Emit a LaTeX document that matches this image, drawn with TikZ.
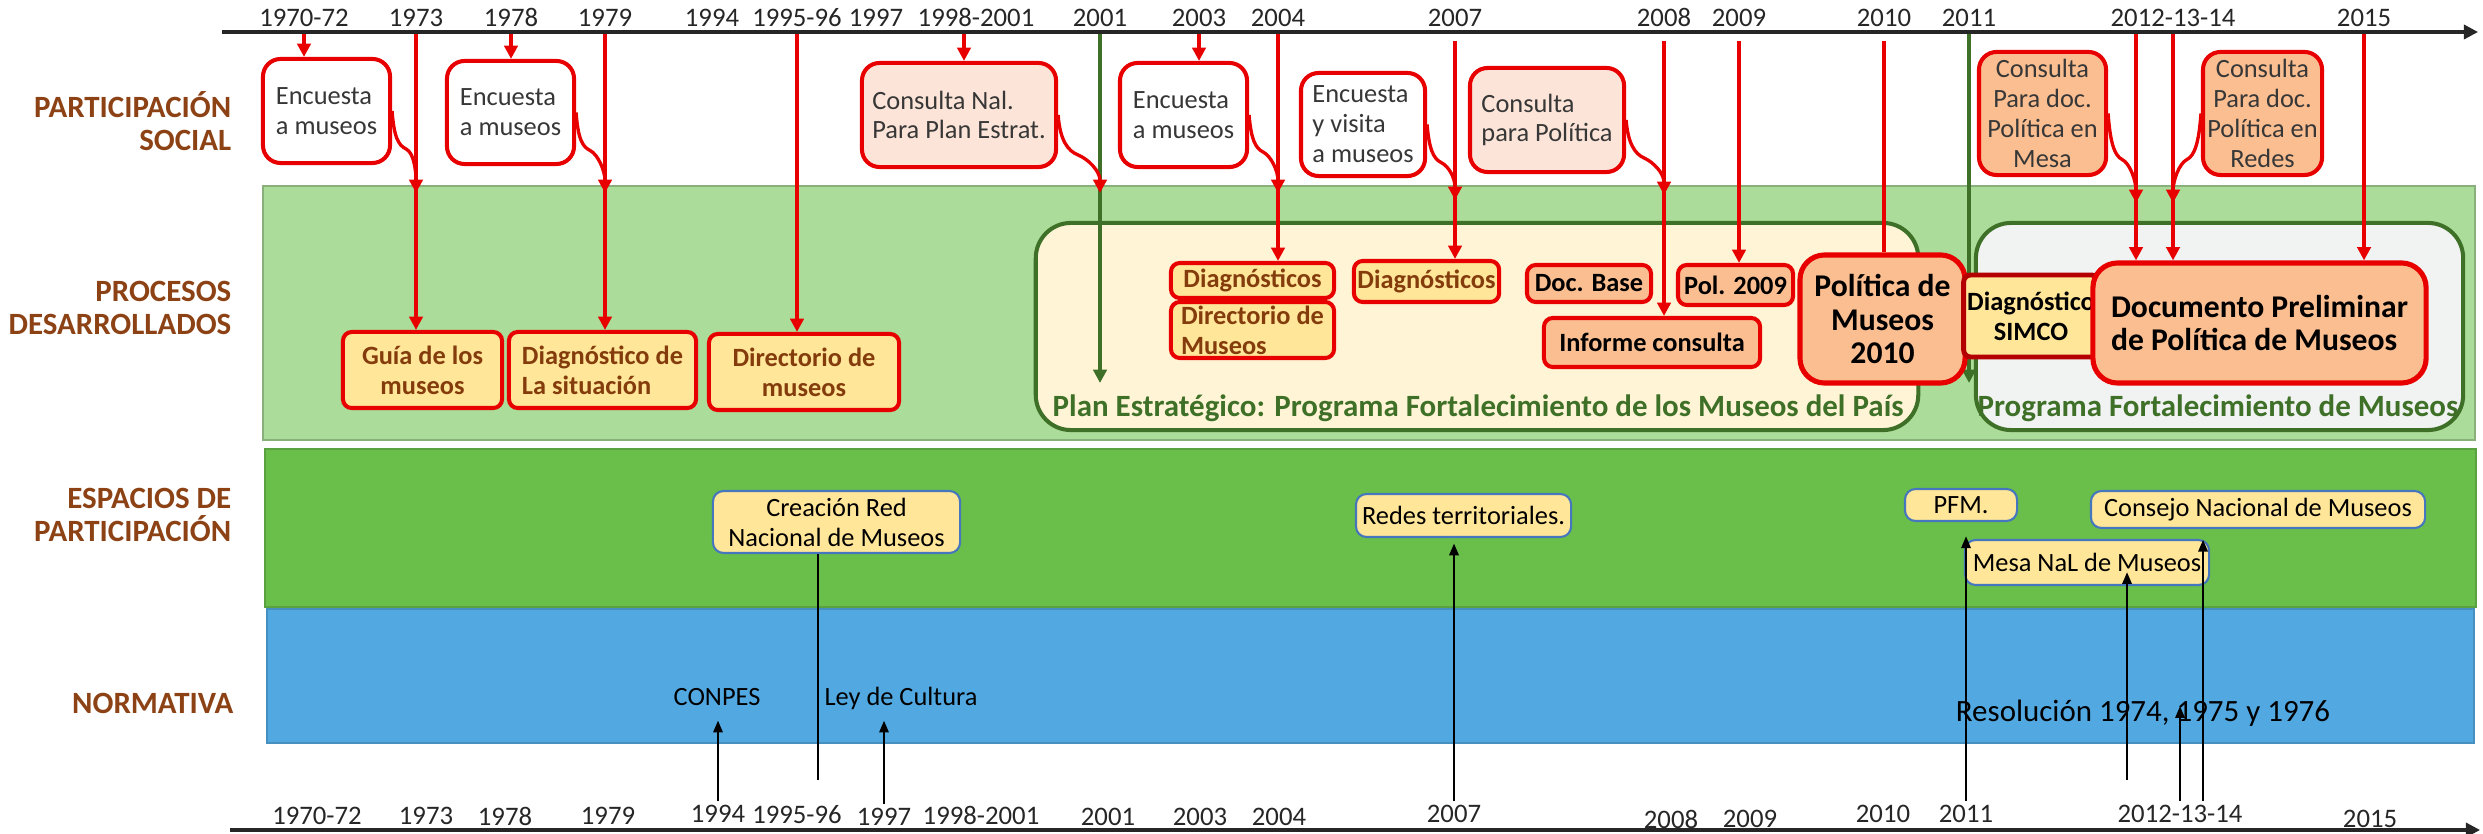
\documentclass[tikz,border=0pt]{standalone}
\usepackage{fontspec}
\setmainfont{Carlito}
\usetikzlibrary{arrows.meta}

\definecolor{rowbrown}{RGB}{140,66,20}
\definecolor{boxred}{RGB}{232,0,0}
\definecolor{simcored}{RGB}{180,0,0}
\definecolor{boxgray}{RGB}{55,55,55}
\definecolor{procgreen}{RGB}{171,220,153}
\definecolor{espgreen}{RGB}{106,191,75}
\definecolor{normblue}{RGB}{82,169,226}
\definecolor{groupgreen}{RGB}{62,112,40}
\definecolor{planfill}{RGB}{255,245,214}
\definecolor{progfill}{RGB}{241,242,242}
\definecolor{procyellow}{RGB}{255,230,153}
\definecolor{procbrown}{RGB}{132,60,12}
\definecolor{salmon}{RGB}{250,190,145}
\definecolor{pinkfill}{RGB}{252,229,216}
\definecolor{espblue}{RGB}{70,118,190}

\pgfdeclarelayer{bands}
\pgfdeclarelayer{links}
\pgfsetlayers{bands,links,main}

\tikzset{
	yearlbl/.style={font=\fontsize{7.6}{9}\selectfont, text=black!85, inner sep=1pt},
	rowlbl/.style={font=\fontsize{8.8}{9.6}\selectfont\bfseries, text=rowbrown, align=right, anchor=east, inner sep=0pt},
	consbox/.style={draw=boxred, line width=1.15pt, rounded corners=5pt, fill=white, text=boxgray, font=\fontsize{7.5}{8.5}\selectfont, inner sep=1pt, align=left},
	procbox/.style={draw=boxred, line width=1.15pt, rounded corners=2.5pt, fill=procyellow, text=procbrown, font=\fontsize{7.5}{8.5}\selectfont\bfseries, inner sep=1pt, align=center},
	docbox/.style={procbox, fill=salmon, text=black},
	bigdoc/.style={docbox, line width=1.45pt, rounded corners=7pt, font=\fontsize{9}{9.6}\selectfont\bfseries},
	espbox/.style={draw=espblue, line width=0.6pt, rounded corners=3pt, fill=procyellow, text=black, font=\fontsize{7.5}{8.5}\selectfont, inner sep=1pt, align=center},
	normlbl/.style={text=black, font=\fontsize{7.5}{8.5}\selectfont, inner sep=1pt},
	groupbox/.style={draw=groupgreen, line width=1.15pt, rounded corners=10pt},
	grouplbl/.style={text=groupgreen, font=\fontsize{8.8}{10}\selectfont\bfseries, inner sep=0pt},
	redline/.style={draw=boxred, line width=0.95pt},
	redarrow/.style={redline, -{Triangle[width=3.8pt,length=3.8pt]}},
	greenarrow/.style={draw=groupgreen, line width=0.95pt, -{Triangle[width=3.8pt,length=3.8pt]}},
	blackarrow/.style={draw=black, line width=0.75pt, -{Triangle[width=2.6pt,length=3.4pt]}},
	axisline/.style={draw=black!85, line width=0.9pt, -{Triangle[width=4pt,length=4pt]}}
}

\begin{document}
\begin{tikzpicture}[x=0.01cm, y=-0.01cm]
\useasboundingbox (0,0) rectangle (2483,834);

%% Franjas
\begin{pgfonlayer}{bands}
	\filldraw[fill=procgreen, draw=procgreen!80!black, line width=0.6pt] (263,186) rectangle (2475,440);
	\filldraw[fill=espgreen, draw=espgreen!85!black, line width=0.6pt] (265,449) rectangle (2476,607);
	\filldraw[fill=normblue, draw=normblue!85!black, line width=0.6pt] (267,609) rectangle (2474,743);

	\node[groupbox, fill=planfill, minimum width=8.82cm, minimum height=2.07cm] (plan) at (1477,326.5) {};
	\node[groupbox, fill=progfill, minimum width=4.87cm, minimum height=2.07cm] (prog) at (2219.5,326.5) {};
\end{pgfonlayer}
\node[grouplbl, anchor=west] (planlbl) at (1052,408) {Plan Estratégico: Programa Fortalecimiento de los Museos del País};
\node[grouplbl] (proglbl) at (2218,408) {Programa Fortalecimiento de Museos};

%% Filas
\node[rowlbl] (rsocial) at (232,121) {PARTICIPACIÓN\\SOCIAL};
\node[rowlbl] (rproc) at (232,308) {PROCESOS\\DESARROLLADOS};
\node[rowlbl] (resp) at (232,515) {ESPACIOS DE\\PARTICIPACIÓN};
\node[rowlbl] (rnorm) at (234,703) {NORMATIVA};

%% Linea de tiempo arriba
\coordinate (topL) at (222,32);
\coordinate (topR) at (2478,32);
\draw[axisline] (topL) -- (topR);
\node[yearlbl, anchor=south] (t7072) at (304,31) {1970-72};
\node[yearlbl, anchor=south] (t73) at (416,31) {1973};
\node[yearlbl, anchor=south] (t78) at (511,31) {1978};
\node[yearlbl, anchor=south] (t79) at (605,31) {1979};
\node[yearlbl, anchor=south] (t94) at (712,31) {1994};
\node[yearlbl, anchor=south] (t9596) at (797,31) {1995-96};
\node[yearlbl, anchor=south] (t97) at (876,31) {1997};
\node[yearlbl, anchor=south] (t9801) at (976,31) {1998-2001};
\node[yearlbl, anchor=south] (t2001) at (1100,31) {2001};
\node[yearlbl, anchor=south] (t2003) at (1199,31) {2003};
\node[yearlbl, anchor=south] (t2004) at (1278,31) {2004};
\node[yearlbl, anchor=south] (t2007) at (1455,31) {2007};
\node[yearlbl, anchor=south] (t2008) at (1664,31) {2008};
\node[yearlbl, anchor=south] (t2009) at (1739,31) {2009};
\node[yearlbl, anchor=south] (t2010) at (1884,31) {2010};
\node[yearlbl, anchor=south] (t2011) at (1969,31) {2011};
\node[yearlbl, anchor=south] (t2012) at (2173,31) {2012-13-14};
\node[yearlbl, anchor=south] (t2015) at (2364,31) {2015};
\coordinate (t9801a) at ([xshift=-0.12cm]t9801.south);
\coordinate (t2012a) at ([xshift=-0.37cm]t2012.south);

%% Linea de tiempo abajo
\coordinate (botL) at (230,830);
\coordinate (botR) at (2480,830);
\draw[axisline] (botL) -- (botR);
\node[yearlbl, anchor=north] (b7072) at (317,803) {1970-72};
\node[yearlbl, anchor=north] (b73) at (426,803) {1973};
\node[yearlbl, anchor=north] (b78) at (505,803) {1978};
\node[yearlbl, anchor=north] (b79) at (608,803) {1979};
\node[yearlbl, anchor=north] (b94) at (718,801) {1994};
\node[yearlbl, anchor=north] (b9596) at (797,801) {1995-96};
\node[yearlbl, anchor=north] (b97) at (884,804) {1997};
\node[yearlbl, anchor=north] (b9801) at (981,802) {1998-2001};
\node[yearlbl, anchor=north] (b2001) at (1108,804) {2001};
\node[yearlbl, anchor=north] (b2003) at (1200,804) {2003};
\node[yearlbl, anchor=north] (b2004) at (1279,804) {2004};
\node[yearlbl, anchor=north] (b2007) at (1454,801) {2007};
\node[yearlbl, anchor=north] (b2008) at (1671,806) {2008};
\node[yearlbl, anchor=north] (b2009) at (1750,806) {2009};
\node[yearlbl, anchor=north] (b2010) at (1883,801) {2010};
\node[yearlbl, anchor=north] (b2011) at (1966,801) {2011};
\node[yearlbl, anchor=north] (b2012) at (2180,801) {2012-13-14};
\node[yearlbl, anchor=north] (b2015) at (2370,806) {2015};

%% Participacion social
\node[consbox, minimum width=1.27cm, minimum height=1.04cm] (enc1) at (326.5,111) {Encuesta\\a museos};
\node[consbox, minimum width=1.27cm, minimum height=1.03cm] (enc2) at (510.5,112.5) {Encuesta\\a museos};
\node[consbox, fill=pinkfill, minimum width=1.94cm, minimum height=1.04cm] (cnal) at (959,115) {Consulta Nal.\\Para Plan Estrat.};
\node[consbox, minimum width=1.27cm, minimum height=1.04cm] (enc3) at (1183.5,115) {Encuesta\\a museos};
\node[consbox, minimum width=1.24cm, minimum height=1.03cm] (envis) at (1363,124.5) {Encuesta\\y visita\\a museos};
\node[consbox, fill=pinkfill, minimum width=1.54cm, minimum height=1.04cm] (cpol) at (1547,120) {Consulta\\para Política};
\node[consbox, fill=salmon, align=center, minimum width=1.27cm, minimum height=1.23cm] (cmesa) at (2042.5,113.5) {Consulta\\Para doc.\\Política en\\Mesa};
\node[consbox, fill=salmon, align=center, minimum width=1.19cm, minimum height=1.23cm] (credes) at (2262.5,113.5) {Consulta\\Para doc.\\Política en\\Redes};

%% Procesos desarrollados
\node[procbox, minimum width=1.59cm, minimum height=0.76cm] (guia) at (422.5,370) {Guía de los\\museos};
\node[procbox, align=left, minimum width=1.87cm, minimum height=0.76cm] (diag79) at (602.5,370) {Diagnóstico de\\La situación};
\node[procbox, minimum width=1.90cm, minimum height=0.76cm] (dir96) at (804,372) {Directorio de\\museos};
\node[procbox, minimum width=1.63cm, minimum height=0.35cm] (diag04) at (1252.5,280.5) {Diagnósticos};
\node[procbox, align=left, minimum width=1.63cm, minimum height=0.56cm] (dir04) at (1252.5,330) {Directorio de\\Museos};
\node[procbox, minimum width=1.45cm, minimum height=0.41cm] (diag07) at (1426.5,281.5) {Diagnósticos};
\node[docbox, minimum width=1.24cm, minimum height=0.37cm] (docbase) at (1589,283.5) {Doc. Base};
\node[docbox, minimum width=2.16cm, minimum height=0.49cm] (informe) at (1652,342.5) {Informe consulta};
\node[docbox, minimum width=1.15cm, minimum height=0.40cm] (pol09) at (1735.5,285) {Pol. 2009};
\node[bigdoc, minimum width=1.65cm, minimum height=1.28cm] (pol10) at (1882.5,319) {Política de\\Museos\\2010};
\node[docbox, fill=procyellow, draw=simcored, line width=1.4pt, rounded corners=2pt, minimum width=1.32cm, minimum height=0.82cm] (simco) at (2031,316) {Diagnóstico\\SIMCO};
\node[bigdoc, align=left, minimum width=3.33cm, minimum height=1.20cm] (docprel) at (2259.5,323) {Documento Preliminar\\de Política de Museos};

%% Espacios de participacion
\node[espbox, minimum width=2.47cm, minimum height=0.62cm] (creacion) at (836.5,522) {Creación Red\\Nacional de Museos};
\node[espbox, minimum width=2.15cm, minimum height=0.43cm] (redes) at (1463.5,515.5) {Redes territoriales.};
\node[espbox, minimum width=1.12cm, minimum height=0.32cm] (pfm) at (1961,505) {PFM.};
\node[espbox, minimum width=3.34cm, minimum height=0.37cm] (consejo) at (2258,509.5) {Consejo Nacional de Museos};
\node[espbox, minimum width=2.44cm, minimum height=0.45cm] (mesa) at (2087,562.5) {Mesa NaL de Museos};

%% Normativa
\node[normlbl] (conpes) at (717,697) {CONPES};
\node[normlbl] (ley) at (901,698) {Ley de Cultura};
\node[normlbl, font=\fontsize{8.8}{10}\selectfont] (resol) at (2143,713) {Resolución 1974, 1975 y 1976};

%% Flechas de arriba
\begin{pgfonlayer}{links}
	\draw[redarrow] (t7072.south) -- (t7072.south |- enc1.north);
	\draw[redarrow] (t73.south) -- (t73.south |- guia.north);
	\draw[redarrow] (t78.south) -- (t78.south |- enc2.north);
	\draw[redarrow] (t79.south) -- (t79.south |- diag79.north);
	\draw[redarrow] (t9596.south) -- (t9596.south |- dir96.north);
	\draw[redarrow] (t9801a) -- (t9801a |- cnal.north);
	\draw[redarrow] (t2003.south) -- (t2003.south |- enc3.north);
	\draw[redarrow] (t2004.south) -- (t2004.south |- diag04.north);
	\draw[redarrow, shorten <=2.8pt] (t2007.south) -- (t2007.south |- diag07.north);
	\draw[redarrow, shorten <=2.8pt] (t2008.south) -- (t2008.south |- informe.north);
	\draw[redarrow, shorten <=2.8pt] (t2009.south) -- (t2009.south |- pol09.north);
	\draw[redline, shorten <=2.8pt] (t2010.south) -- (t2010.south |- pol10.north);
	\draw[redarrow] (t2012a) -- (t2012a |- docprel.north);
	\draw[redarrow] (t2012.south) -- (t2012.south |- docprel.north);
	\draw[redarrow] (t2015.south) -- (t2015.south |- docprel.north);

	\coordinate (g2001) at (1100,383);
	\coordinate (g2011) at (1969,383);
	\draw[greenarrow] (t2001.south) -- (g2001);
	\draw[greenarrow] (t2011.south) -- (g2011);

	%% consultas hacia los procesos
	\draw[redarrow] (enc1.east) .. controls +(2,26) and +(-8,-4) .. ++(14,38) .. controls +(8,4) and +(0,-22) .. (t73.south |- 0,193);
	\draw[redarrow] (enc2.east) .. controls +(2,26) and +(-8,-4) .. ++(14,38) .. controls +(8,4) and +(0,-22) .. (t79.south |- 0,193);
	\draw[redarrow] (cnal.east) .. controls +(2,26) and +(-10,-4) .. ++(20,40) .. controls +(10,4) and +(0,-22) .. (t2001.south |- 0,193);
	\draw[redarrow] (enc3.east) .. controls +(2,24) and +(-8,-4) .. ++(14,37) .. controls +(8,4) and +(0,-22) .. (t2004.south |- 0,193);
	\draw[redarrow] (envis.east) .. controls +(2,24) and +(-8,-4) .. ++(14,38) .. controls +(8,4) and +(0,-22) .. (t2007.south |- 0,200);
	\draw[redarrow] (cpol.east) .. controls +(2,24) and +(-9,-4) .. ++(18,38) .. controls +(9,4) and +(0,-22) .. (t2008.south |- 0,195);
	\draw[redarrow] (cmesa.east) .. controls +(2,28) and +(-8,-4) .. ++(14,46) .. controls +(8,4) and +(0,-22) .. (t2012a |- 0,203);
	\draw[redarrow] (credes.west) .. controls +(-2,28) and +(8,-4) .. ++(-14,46) .. controls +(-8,4) and +(0,-22) .. (t2012.south |- 0,203);
\end{pgfonlayer}

%% Flechas de abajo
\coordinate (crbase) at (818,780);
\coordinate (mesabase) at (2127,780);
\coordinate (conbase) at ([xshift=0.23cm]b2012.north);
\draw[blackarrow, shorten >=3pt] (b94.north) -- (b94.north |- conpes.south);
\draw[line width=0.75pt] (crbase) -- (crbase |- creacion.south);
\draw[blackarrow, shorten >=2pt] (b97.north) -- (b97.north |- ley.south);
\draw[blackarrow, shorten >=1.5pt] (b2007.north) -- (b2007.north |- redes.south);
\draw[blackarrow, shorten >=4pt] (b2011.north) -- (b2011.north |- pfm.south);
\draw[blackarrow] (mesabase) -- (mesabase |- 0,572);
\draw[blackarrow, shorten >=-2pt] (b2012.north) -- (b2012.north |- resol.center);
\draw[blackarrow, shorten >=3pt] (conbase) -- (conbase |- consejo.south);

%\draw (current bounding box.south west) rectangle (current bounding box.north east);

\end{tikzpicture}
\end{document}
